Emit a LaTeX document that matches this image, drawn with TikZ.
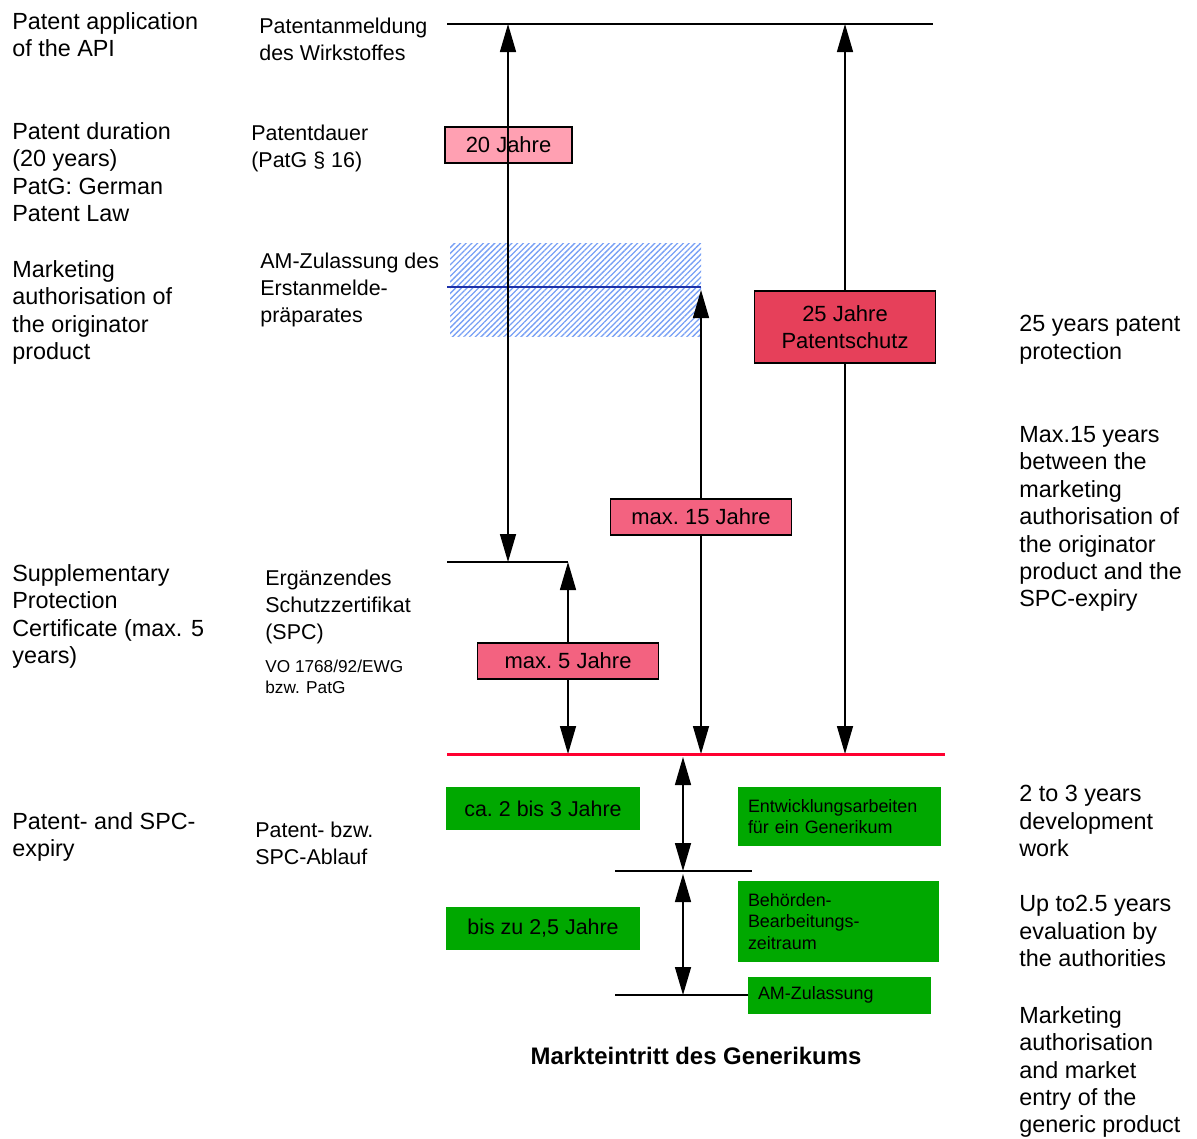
\documentclass[tikz,border=0pt]{standalone}
\usepackage{fontspec}
\setmainfont{Liberation Sans}
\usetikzlibrary{arrows.meta,patterns.meta}

\newlength{\du}
\setlength{\du}{0.2mm}

\definecolor{paleboxcolor}{RGB}{255,160,178}
\definecolor{midboxcolor}{RGB}{243,98,128}
\definecolor{redboxcolor}{RGB}{230,64,90}
\definecolor{genericgreen}{RGB}{0,168,0}
\definecolor{expiryred}{RGB}{255,0,48}
\definecolor{approvalblue}{RGB}{30,50,170}
\definecolor{hatchblue}{RGB}{120,160,245}

\tikzset{
  entext/.style={anchor=north west, inner sep=0pt, align=left,
    font=\fontsize{13.3}{15.6}\selectfont},
  detext/.style={anchor=north west, inner sep=0pt, align=left,
    font=\fontsize{12.2}{15.3}\selectfont},
  periodbox/.style={draw=black, line width=0.85pt, inner sep=0pt, align=center,
    font=\fontsize{12.5}{15.3}\selectfont},
  genbox/.style={fill=genericgreen, inner sep=0pt,
    font=\fontsize{12.2}{15.3}\selectfont},
  gennote/.style={fill=genericgreen, inner xsep=10\du, inner ysep=0pt, align=left,
    font=\fontsize{10.2}{12.4}\selectfont},
  timeline/.style={line width=0.85pt},
  >={Triangle[length=0.56cm,width=0.32cm]}
}

\begin{document}
\begin{tikzpicture}[x=\du,y=-\du]
\useasboundingbox (0,0) rectangle (1197,1138);

% english notes, left
\node[entext] (papi) at (12,12) {Patent application\\of the API};
\node[entext] (pdur) at (12,122) {Patent duration\\(20 years)\\PatG: German\\Patent Law};
\node[entext] (morig) at (12,260) {Marketing\\authorisation of\\the originator\\product};
\node[entext] (spcen) at (12,564) {Supplementary\\Protection\\Certificate (max. 5\\years)};
\node[entext] (pexp) at (12,812) {Patent- and SPC-\\expiry};

% english notes, right
\node[entext] (rprot) at (1019,315) {25 years patent\\protection};
\node[entext] (rmax) at (1019,426) {Max.15 years\\between the\\marketing\\authorisation of\\the originator\\product and the\\SPC-expiry};
\node[entext] (rdev) at (1019,785) {2 to 3 years\\development\\work};
\node[entext] (reval) at (1019,895) {Up to2.5 years\\evaluation by\\the authorities};
\node[entext] (rmkt) at (1019,1006) {Marketing\\authorisation\\and market\\entry of the\\generic product};

% german labels
\node[detext] (anm) at (259,18) {Patentanmeldung\\des Wirkstoffes};
\node[detext] (dauer) at (251,125) {Patentdauer\\(PatG \S{} 16)};
\node[detext] (amerst) at (260,253) {AM-Zulassung des\\Erstanmelde-\\präparates};
\node[detext] (erg) at (265,570) {Ergänzendes\\Schutzzertifikat\\(SPC)};
\node[detext, font=\fontsize{9.8}{12}\selectfont] (vo) at (265,660) {VO 1768/92/EWG\\bzw. PatG};
\node[detext] (ablauf) at (255,822) {Patent- bzw.\\SPC-Ablauf};

% marketing authorisation of the originator
\fill[pattern={Lines[angle=45,distance=2.3pt,line width=0.75pt]}, pattern color=hatchblue]
  (450,243) rectangle (701,336);
\coordinate (blueleft) at (447,287);
\coordinate (blueright) at (701,287);
\draw[timeline, approvalblue] (blueleft) -- (blueright);

% time marks
\coordinate (topleft) at (447,24);
\coordinate (topright) at (933,24);
\coordinate (spcleft) at (447,562);
\coordinate (redleft) at (447,754);
\coordinate (redright) at (945,754);
\coordinate (midleft) at (615,871);
\coordinate (midright) at (752,871);
\coordinate (lowleft) at (615,995);

\coordinate (atop) at (508,24);
\coordinate (abot) at (508,562);
\coordinate (btop) at (701,290);
\coordinate (bbot) at (701,754);
\coordinate (ctop) at (845,24);
\coordinate (cbot) at (845,754);
\coordinate (dtop) at (568,562);
\coordinate (dbot) at (568,754);
\coordinate (etop) at (683,757);
\coordinate (ebot) at (683,871);
\coordinate (ftop) at (683,874);
\coordinate (fbot) at (683,995);

\draw[timeline] (topleft) -- (topright);
\draw[timeline] (spcleft) -- (dtop);

% periods
\node[periodbox, fill=paleboxcolor, minimum width=127\du, minimum height=36\du] (jahre20) at (508.5,145) {20 Jahre};
\draw[timeline, <->] (atop) -- (abot);

\node[periodbox, fill=midboxcolor, minimum width=181\du, minimum height=36\du] (max15) at (701,517) {max.~15 Jahre};
\draw[timeline, <-] (btop) -- (max15);
\draw[timeline, ->] (max15) -- (bbot);

\node[periodbox, fill=redboxcolor, minimum width=181\du, minimum height=72\du] (jahre25) at (845,327) {25 Jahre\\Patentschutz};
\draw[timeline, <-] (ctop) -- (jahre25);
\draw[timeline, ->] (jahre25) -- (cbot);

\node[periodbox, fill=midboxcolor, minimum width=181\du, minimum height=36\du] (max5) at (568,661) {max.~5 Jahre};
\draw[timeline, <-] (dtop) -- (max5);
\draw[timeline, ->] (max5) -- (dbot);

% expiry
\draw[line width=1.7pt, expiryred] (redleft) -- (redright);

% generic development
\node[genbox, minimum width=194\du, minimum height=43\du] (ca23) at (543,808.5) {ca.~2 bis 3 Jahre};
\node[gennote, text width=183\du, minimum height=59\du] (entw) at (839.5,816.5) {Entwicklungsarbeiten\\für ein Generikum};
\node[genbox, minimum width=194\du, minimum height=43\du] (bis25) at (543,928.5) {bis zu 2,5 Jahre};
\node[gennote, text width=181\du, minimum height=81\du] (behoerde) at (838.5,921.5) {Behörden-\\Bearbeitungs-\\zeitraum};
\node[gennote, text width=163\du, minimum height=37\du] (amzul) at (839.5,995) {AM-Zulassung};

\draw[timeline, <->] (etop) -- (ebot);
\draw[timeline] (midleft) -- (midright);
\draw[timeline, <->] (ftop) -- (fbot);
\draw[timeline] (lowleft) -- (amzul.west);

\node[font=\bfseries\fontsize{13.6}{16}\selectfont] (markt) at (696,1056) {Markteintritt des Generikums};
\end{tikzpicture}
\end{document}
